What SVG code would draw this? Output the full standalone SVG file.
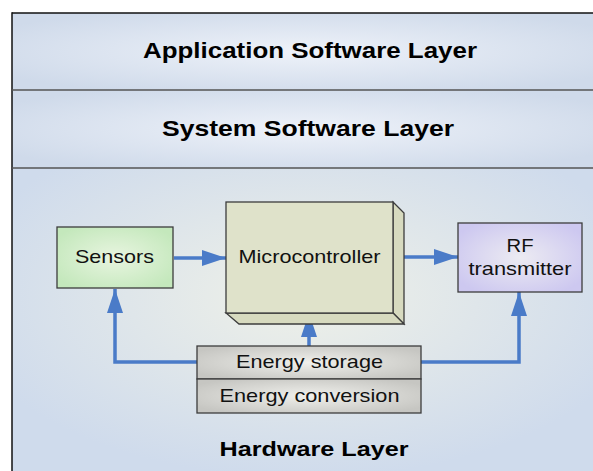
<svg xmlns="http://www.w3.org/2000/svg" width="593" height="471" viewBox="0 0 593 471">
  <defs>
    <radialGradient id="layerBg" cx="0.5" cy="0.5" r="0.6">
      <stop offset="0" stop-color="#eef2f9"/>
      <stop offset="1" stop-color="#cfdaea"/>
    </radialGradient>
    <radialGradient id="hwBg" cx="0.5" cy="0.42" r="0.6">
      <stop offset="0" stop-color="#eff1e8"/>
      <stop offset="1" stop-color="#cfdbec"/>
    </radialGradient>
    <radialGradient id="greenFill" cx="0.5" cy="0.5" r="0.6">
      <stop offset="0" stop-color="#e8f5e0"/>
      <stop offset="1" stop-color="#c4e8bc"/>
    </radialGradient>
    <radialGradient id="purpleFill" cx="0.5" cy="0.5" r="0.6">
      <stop offset="0" stop-color="#ecebf2"/>
      <stop offset="1" stop-color="#cdc8f0"/>
    </radialGradient>
    <radialGradient id="grayFill" cx="0.5" cy="0.5" r="0.6">
      <stop offset="0" stop-color="#f0f0ec"/>
      <stop offset="1" stop-color="#c6c6c2"/>
    </radialGradient>
    <marker id="arrow" viewBox="0 0 24 16" refX="24" refY="8" markerWidth="24" markerHeight="16" markerUnits="userSpaceOnUse" orient="auto">
      <path d="M0,0 L24,8 L0,16 Z" fill="#4a7bc8"/>
    </marker>
  </defs>
  <style>
    .title { font-family: "Liberation Sans", Arial, sans-serif; font-weight: bold; font-size: 22px; fill: #000; text-anchor: middle; }
    .label { font-family: "Liberation Sans", Arial, sans-serif; font-size: 19px; fill: #111; text-anchor: middle; }
    .box { stroke: #3c3c3c; stroke-width: 1.3; }
    .divider { stroke: #555; stroke-width: 1.5; }
    .link { fill: none; stroke: #4a7bc8; stroke-width: 3.5; }
  </style>

  <!-- layer bands -->
  <g id="application-layer">
    <rect x="12" y="13" width="582" height="77" fill="url(#layerBg)"/>
    <text class="title" x="310" y="58" textLength="334" lengthAdjust="spacingAndGlyphs">Application Software Layer</text>
  </g>
  <g id="system-layer">
    <rect x="12" y="90" width="582" height="78" fill="url(#layerBg)"/>
    <text class="title" x="308" y="136" textLength="292" lengthAdjust="spacingAndGlyphs">System Software Layer</text>
  </g>
  <g id="hardware-layer">
    <rect x="12" y="168" width="582" height="304" fill="url(#hwBg)"/>
    <text class="title" x="314" y="456" style="font-size:21px" textLength="189" lengthAdjust="spacingAndGlyphs">Hardware Layer</text>
  </g>

  <!-- frame and separators -->
  <line x1="12" y1="13" x2="593" y2="13" stroke="#111" stroke-width="1.5"/>
  <line x1="12" y1="12.3" x2="12" y2="471" stroke="#111" stroke-width="1.5"/>
  <line class="divider" x1="12" y1="90" x2="593" y2="90"/>
  <line class="divider" x1="12" y1="168" x2="593" y2="168"/>

  <!-- connectors -->
  <g id="connectors">
    <line class="link" x1="174" y1="258" x2="226" y2="258" marker-end="url(#arrow)"/>
    <line class="link" x1="393" y1="257" x2="458" y2="257" marker-end="url(#arrow)"/>
    <line class="link" x1="309" y1="346" x2="309" y2="313" marker-end="url(#arrow)"/>
    <polyline class="link" points="197,362 115,362 115,289" marker-end="url(#arrow)"/>
    <polyline class="link" points="421,362 519,362 519,292" marker-end="url(#arrow)"/>
  </g>

  <!-- nodes -->
  <g id="sensors">
    <rect class="box" x="57" y="227" width="116" height="61" fill="url(#greenFill)"/>
    <text class="label" x="114.5" y="263" textLength="79" lengthAdjust="spacingAndGlyphs">Sensors</text>
  </g>

  <g id="microcontroller">
    <polygon class="box" points="393,202 404,213 404,324 393,313" fill="#d7dabf"/>
    <polygon class="box" points="226,313 393,313 404,324 239,324" fill="#d7dabf"/>
    <rect class="box" x="226" y="202" width="167" height="111" fill="#dfe2ca"/>
    <text class="label" x="309.5" y="263" textLength="142" lengthAdjust="spacingAndGlyphs">Microcontroller</text>
  </g>

  <g id="rf-transmitter">
    <rect class="box" x="458" y="223" width="124" height="69" fill="url(#purpleFill)"/>
    <text class="label" x="520" y="252" textLength="27" lengthAdjust="spacingAndGlyphs">RF</text>
    <text class="label" x="520" y="275" textLength="103" lengthAdjust="spacingAndGlyphs">transmitter</text>
  </g>

  <g id="energy-storage">
    <rect class="box" x="197" y="346" width="224" height="33" fill="url(#grayFill)"/>
    <text class="label" x="309.5" y="368" textLength="147" lengthAdjust="spacingAndGlyphs">Energy storage</text>
  </g>

  <g id="energy-conversion">
    <rect class="box" x="197" y="379" width="224" height="34" fill="url(#grayFill)"/>
    <text class="label" x="309.5" y="402" textLength="180" lengthAdjust="spacingAndGlyphs">Energy conversion</text>
  </g>
</svg>
